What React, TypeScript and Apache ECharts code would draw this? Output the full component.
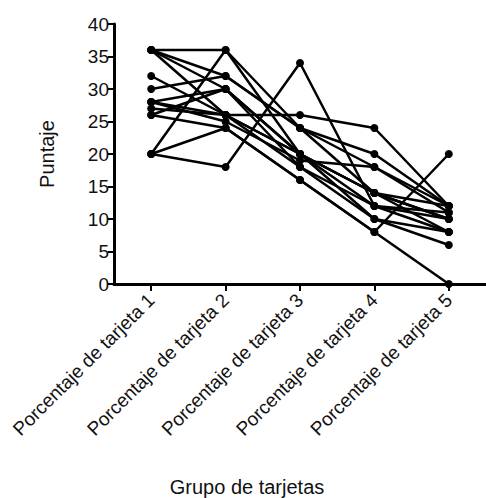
import React, { useEffect, useRef } from "react";
import * as echarts from "echarts";

const categories = [
  "Porcentaje de tarjeta 1",
  "Porcentaje de tarjeta 2",
  "Porcentaje de tarjeta 3",
  "Porcentaje de tarjeta 4",
  "Porcentaje de tarjeta 5",
];

const yTicks = [0, 5, 10, 15, 20, 25, 30, 35, 40];

const s1 = [36, 36, 20, 14, 10];
const s2 = [36, 32, 24, 18, 12];
const s3 = [36, 26, 18, 10, 8];
const s4 = [36, 30, 20, 12, 11];
const s5 = [32, 26, 20, 14, 8];
const s6 = [30, 32, 24, 20, 12];
const s7 = [28, 26, 20, 14, 10];
const s8 = [28, 30, 18, 12, 8];
const s9 = [26, 24, 16, 8, 20];
const s10 = [26, 30, 20, 10, 6];
const s11 = [20, 36, 24, 14, 12];
const s12 = [20, 24, 16, 8, 0];
const s13 = [20, 18, 34, 12, 10];
const s14 = [27, 26, 26, 24, 12];
const s15 = [28, 25, 19, 18, 11];

const subjects = [s1, s2, s3, s4, s5, s6, s7, s8, s9, s10, s11, s12, s13, s14, s15];

const FONT = "Liberation Sans, Arial, sans-serif";

export default function App() {
  const ref = useRef<HTMLDivElement>(null);
  useEffect(() => {
    if (!ref.current) return;
    const chart = echarts.init(ref.current, undefined, { renderer: "svg" });
    chart.setOption({
      animation: false,
      backgroundColor: "#ffffff",
      grid: { left: 114, top: 24, width: 376, height: 260, containLabel: false },
      xAxis: {
        type: "category",
        data: categories,
        boundaryGap: true,
        axisLine: { show: true, lineStyle: { color: "#000", width: 3 } },
        axisTick: { show: true, alignWithLabel: true, length: 7, lineStyle: { color: "#000", width: 2 } },
        axisLabel: {
          rotate: 45,
          interval: 0,
          margin: 13,
          color: "#111",
          fontFamily: FONT,
          fontSize: 19,
        },
        splitLine: { show: false },
      },
      yAxis: {
        type: "value",
        min: yTicks[0],
        max: yTicks[yTicks.length - 1],
        interval: 5,
        name: "Puntaje",
        nameLocation: "middle",
        nameGap: 57,
        nameRotate: 90,
        nameTextStyle: { color: "#111", fontFamily: FONT, fontSize: 20 },
        axisLine: { show: true, lineStyle: { color: "#000", width: 3 } },
        axisTick: { show: true, length: 6, lineStyle: { color: "#000", width: 2 } },
        axisLabel: { color: "#111", fontFamily: FONT, fontSize: 19, margin: 5 },
        splitLine: { show: false },
      },
      graphic: [
        {
          type: "text",
          x: 247,
          y: 487,
          style: {
            text: "Grupo de tarjetas",
            fill: "#111",
            font: `20px ${FONT}`,
            align: "center",
            verticalAlign: "middle",
          },
        },
      ],
      series: subjects.map((d, i) => ({
        type: "line",
        name: "S" + (i + 1),
        data: d,
        symbol: "circle",
        symbolSize: 8,
        lineStyle: { color: "#000", width: 2.5 },
        itemStyle: { color: "#000" },
        clip: false,
      })),
    });
    return () => chart.dispose();
  }, []);
  return (
    <div
      ref={ref}
      style={{ position: "fixed", left: 0, top: 0, width: 486, height: 498, background: "#fff" }}
    />
  );
}
